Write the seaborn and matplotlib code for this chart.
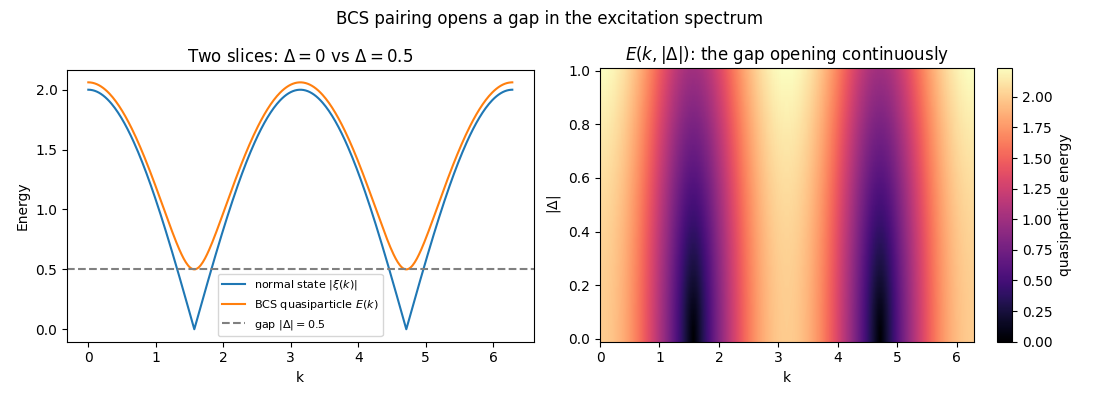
import numpy as np
import pandas as pd
import matplotlib
matplotlib.use("Agg")
import matplotlib.pyplot as plt
import seaborn as sns

# Model parameters (tight-binding band xi(k) = -2 t cos k, BCS gap)
hopping_t = 1.0
gap_slice = 0.5
k_min, k_max = 0.0, 2 * np.pi
delta_min, delta_max = 0.0, 1.0
n_k = 401
n_delta = 50

k = np.linspace(k_min, k_max, n_k)
xi = -2 * hopping_t * np.cos(k)
E_slice = np.sqrt(xi**2 + gap_slice**2)
deltas = np.linspace(delta_min, delta_max, n_delta)
E_map = np.sqrt(xi[None, :]**2 + deltas[:, None]**2)

df = pd.DataFrame({
    "k": np.concatenate([k, k]),
    "Energy": np.concatenate([np.abs(xi), E_slice]),
    "series": [r"normal state $|\xi(k)|$"] * n_k + [r"BCS quasiparticle $E(k)$"] * n_k,
})

fig = plt.figure(figsize=(11, 4), dpi=100)
ax1 = fig.add_axes([0.061, 0.146, 0.424, 0.679])
ax2 = fig.add_axes([0.5455, 0.146, 0.340, 0.684])
cax = fig.add_axes([0.9065, 0.146, 0.0136, 0.684])

sns.lineplot(data=df, x="k", y="Energy", hue="series",
             palette=["#1f77b4", "#ff7f0e"], ax=ax1, linewidth=1.5)
ax1.axhline(gap_slice, color="gray", linestyle="--", linewidth=1.5,
            label=r"gap $|\Delta|=0.5$")
ax1.legend(loc="lower center", fontsize=8)
ax1.set_title(r"Two slices: $\Delta=0$ vs $\Delta=0.5$")
ax1.set_xlabel("k")
ax1.set_ylabel("Energy")

dk = (k_max - k_min) / (n_k - 1)
dd = (delta_max - delta_min) / (n_delta - 1)
im = ax2.imshow(E_map, origin="lower", aspect="auto", cmap="magma", vmin=0,
                extent=[k_min - dk / 2, k_max + dk / 2,
                        delta_min - dd / 2, delta_max + dd / 2])
ax2.set_xlim(k_min, k_max + dk / 2)
ax2.set_title(r"$E(k,|\Delta|)$: the gap opening continuously")
ax2.set_xlabel("k")
ax2.set_ylabel(r"$|\Delta|$")
cb = fig.colorbar(im, cax=cax)
cb.set_label("quasiparticle energy")

fig.suptitle("BCS pairing opens a gap in the excitation spectrum", y=0.975)
fig.savefig("out.png")
